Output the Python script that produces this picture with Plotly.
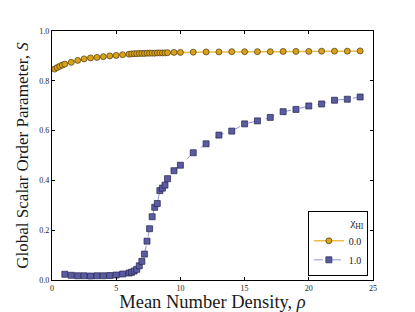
import plotly.graph_objects as go

# ---- data ----
x_hi0 = [0.2, 0.4, 0.6, 0.8, 1.0, 1.5, 2.0, 2.5, 3.0, 3.5, 4.0, 4.5, 5.0, 5.5, 6.0,
         6.2, 6.4, 6.6, 6.8, 7.0, 7.2, 7.4, 7.6, 7.8, 8.0, 8.2, 8.4, 8.6, 8.8, 9.0,
         9.5, 10, 11, 12, 13, 14, 15, 16, 17, 18, 19, 20, 21, 22, 23, 24]
s_hi0 = [0.847, 0.853, 0.858, 0.863, 0.867, 0.874, 0.882, 0.888, 0.892, 0.894, 0.897, 0.900, 0.902, 0.905, 0.907,
         0.908, 0.909, 0.909, 0.910, 0.910, 0.910, 0.911, 0.911, 0.911, 0.911, 0.912, 0.912, 0.912, 0.912, 0.913,
         0.914, 0.914, 0.915, 0.916, 0.916, 0.917, 0.917, 0.917, 0.917, 0.918, 0.918, 0.918, 0.919, 0.919, 0.919, 0.920]

x_hi1 = [1.0, 1.5, 2.0, 2.5, 3.0, 3.5, 4.0, 4.5, 5.0, 5.5, 6.0,
         6.2, 6.4, 6.6, 6.8, 7.0, 7.2, 7.4, 7.6, 7.8, 8.0, 8.2, 8.4, 8.6, 8.8, 9.0,
         9.5, 10, 11, 12, 13, 14, 15, 16, 17, 18, 19, 20, 21, 22, 23, 24]
s_hi1 = [0.023, 0.019, 0.017, 0.017, 0.016, 0.017, 0.017, 0.018, 0.020, 0.024, 0.028,
         0.031, 0.036, 0.043, 0.057, 0.075, 0.104, 0.156, 0.206, 0.254, 0.292, 0.307, 0.359, 0.369, 0.381, 0.407,
         0.439, 0.461, 0.511, 0.547, 0.582, 0.598, 0.627, 0.639, 0.653, 0.676, 0.685, 0.699, 0.707, 0.722, 0.726, 0.735]

series_names = ["0.0", "1.0"]
x_ticks = [0, 5, 10, 15, 20, 25]
y_ticks = [0.0, 0.2, 0.4, 0.6, 0.8, 1.0]
y_ticklabels = ["0.0", "0.2", "0.4", "0.6", "0.8", "1.0"]

FONT = "Liberation Serif"
TXT = "#1a1a1a"

fig = go.Figure()
fig.add_trace(go.Scatter(
    x=x_hi0, y=s_hi0, name=series_names[0], mode="lines+markers",
    line=dict(color="rgba(232,176,40,0.85)", width=1.5),
    marker=dict(symbol="circle", size=6, color="#D9A21B",
                line=dict(color="#4a3a10", width=0.7)),
))
fig.add_trace(go.Scatter(
    x=x_hi1, y=s_hi1, name=series_names[1], mode="lines+markers",
    line=dict(color="rgba(120,120,200,0.8)", width=1, dash="dash"),
    marker=dict(symbol="square", size=6, color="#5B5BA3",
                line=dict(color="#23234a", width=0.7)),
))

axis_common = dict(
    showline=True, linecolor="black", linewidth=1.2, mirror="ticks",
    ticks="inside", ticklen=3, tickwidth=0.8, tickcolor="black",
    showgrid=False, zeroline=False, automargin=False,
    ticklabeloverflow="allow",
    tickfont=dict(family=FONT, size=8, color=TXT),
)

fig.update_xaxes(range=[0, 25], tickvals=x_ticks,
                 title=dict(text="Mean Number Density, <i>ρ</i>",
                            font=dict(family=FONT, size=18.5, color=TXT), standoff=2),
                 **axis_common)
fig.update_yaxes(range=[0, 1.0], tickvals=y_ticks, ticktext=y_ticklabels,
                 title=dict(text="Global Scalar Order Parameter, <i>S</i>",
                            font=dict(family=FONT, size=17, color=TXT), standoff=6),
                 **axis_common)

fig.update_layout(
    width=415, height=312,
    margin=dict(l=52, r=42, t=31, b=32),
    paper_bgcolor="white", plot_bgcolor="white",
    font=dict(family=FONT, color=TXT),
    legend=dict(
        x=0.984, y=0.016, xanchor="right", yanchor="bottom",
        bgcolor="white", bordercolor="black", borderwidth=1,
        font=dict(family=FONT, size=10, color=TXT),
        title=dict(text="χ<sub>HI</sub>", side="top right",
                   font=dict(family=FONT, size=11, color=TXT)),
        itemwidth=30, tracegroupgap=0,
    ),
)

fig.write_html("out.html", config={"displayModeBar": False},
               post_script="document.body.style.margin='0';document.body.style.overflow='hidden';")
